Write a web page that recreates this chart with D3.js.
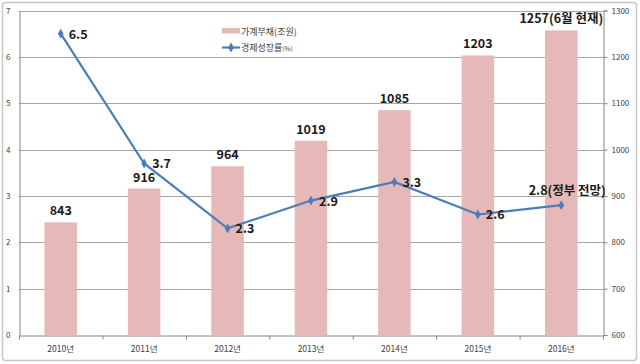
<!DOCTYPE html>
<html><head><meta charset="utf-8">
<script src="https://cdn.jsdelivr.net/npm/d3@7"></script>
<style>body{margin:0;background:#fff}svg{display:block}</style>
</head><body>
<svg id="c" width="640" height="364"></svg>
<script>
const years = ["2010년","2011년","2012년","2013년","2014년","2015년","2016년"];
const debt = [843, 916, 964, 1019, 1085, 1203, 1257];
const debtLabels = ["843","916","964","1019","1085","1203","1257(6월 현재)"];
const growth = [6.5, 3.7, 2.3, 2.9, 3.3, 2.6, 2.8];
const growthLabels = ["6.5","3.7","2.3","2.9","3.3","2.6","2.8(정부 전망)"];
const leftTicks = [0,1,2,3,4,5,6,7];
const rightTicks = [600,700,800,900,1000,1100,1200,1300];

const svg = d3.select("#c");
const L = 19, R = 603, T = 10.5, B = 335;
const font = "'Noto Sans CJK KR', 'Noto Sans', sans-serif";

// outer border
svg.append("rect").attr("x",2.5).attr("y",2.5).attr("width",634).attr("height",358)
  .attr("rx",3).attr("fill","#fff").attr("stroke","#c8c8c8").attr("stroke-width",1.5);

const x = d3.scaleBand().domain(years).range([L,R]).paddingInner(0.61).paddingOuter(0.305);
const xc = d3.scaleBand().domain(years).range([L,R]);
const yL = d3.scaleLinear().domain([0,7]).range([B,T]);
const yR = d3.scaleLinear().domain([600,1300]).range([B,T]);

// gridlines
svg.append("g").selectAll("line").data(leftTicks.slice(1)).join("line")
  .attr("x1",L).attr("x2",R).attr("y1",d=>Math.round(yL(d))+0.5).attr("y2",d=>Math.round(yL(d))+0.5)
  .attr("stroke","#a6a6a6").attr("stroke-width",1);

// bars
svg.append("g").selectAll("rect").data(debt).join("rect")
  .attr("x",(d,i)=>x(years[i])).attr("width",x.bandwidth())
  .attr("y",d=>yR(d)).attr("height",d=>B-yR(d))
  .attr("fill","#e6b9b8");

// left axis
const gl = svg.append("g").attr("transform",`translate(${L+0.5},0)`)
  .call(d3.axisLeft(yL).tickValues(leftTicks).tickFormat(d3.format("d")).tickSize(0).tickPadding(9));
gl.select(".domain").attr("stroke","#868686");
gl.selectAll("text").attr("font-family",font).attr("font-size",8).attr("fill","#404040");

// right axis
const gr = svg.append("g").attr("transform",`translate(${R+0.5},0)`)
  .call(d3.axisRight(yR).tickValues(rightTicks).tickFormat(d3.format("d")).tickSize(4).tickPadding(4));
gr.select(".domain").attr("stroke","#868686");
gr.selectAll("line").attr("stroke","#868686");
gr.selectAll("text").attr("font-family",font).attr("font-size",8).attr("fill","#404040");

// bottom axis
const gb = svg.append("g").attr("transform",`translate(0,${B+0.5})`)
  .call(d3.axisBottom(xc).tickSize(0).tickPadding(10));
gb.select(".domain").attr("stroke","#868686");
gb.selectAll("text").attr("font-family",font).attr("font-size",8.5).attr("fill","#404040");
gb.selectAll(".bt").data(d3.range(years.length+1)).join("line").attr("class","bt")
  .attr("x1",i=>L+i*xc.step()+0.5).attr("x2",i=>L+i*xc.step()+0.5).attr("y1",0).attr("y2",4)
  .attr("stroke","#868686");

// line
const cx = i => xc(years[i]) + xc.bandwidth()/2;
const line = d3.line().x((d,i)=>cx(i)).y(d=>yL(d));
svg.append("path").datum(growth).attr("d",line).attr("fill","none")
  .attr("stroke","#4a7ebb").attr("stroke-width",2.2);
const diamond = d3.symbol().type(d3.symbolDiamond).size(28);
svg.append("g").selectAll("path").data(growth).join("path")
  .attr("d",diamond).attr("transform",(d,i)=>`translate(${cx(i)},${yL(d)})`).attr("fill","#4a7ebb");

// bar labels
svg.append("g").selectAll("text").data(debt).join("text")
  .attr("x",(d,i)=>cx(i)).attr("y",d=>yR(d)-7)
  .attr("text-anchor","middle").attr("font-family",font).attr("font-weight","bold")
  .attr("font-size",12.5).attr("fill","#1a1a1a").text((d,i)=>debtLabels[i]);

// growth labels
svg.append("g").selectAll("text").data(growth).join("text")
  .attr("x",(d,i)=> i===6 ? cx(i)+6 : cx(i)+8)
  .attr("y",(d,i)=> i===6 ? yL(d)-10 : yL(d)+5)
  .attr("text-anchor",(d,i)=> i===6 ? "middle" : "start")
  .attr("font-family",font).attr("font-weight","bold")
  .attr("font-size",12.5).attr("fill","#1a1a1a").text((d,i)=>growthLabels[i]);

// legend
const lg = svg.append("g");
lg.append("rect").attr("x",222).attr("y",28).attr("width",18).attr("height",5.5).attr("fill","#e6b9b8");
lg.append("text").attr("x",241).attr("y",34.5).attr("font-family",font).attr("font-size",9)
  .attr("fill","#404040").text("가계부채(조원)");
lg.append("line").attr("x1",222).attr("x2",240).attr("y1",47.5).attr("y2",47.5)
  .attr("stroke","#4a7ebb").attr("stroke-width",2.2);
lg.append("path").attr("d",diamond).attr("transform","translate(231,47.5)").attr("fill","#4a7ebb");
const t2 = lg.append("text").attr("x",241).attr("y",51).attr("font-family",font).attr("font-size",9)
  .attr("fill","#404040");
t2.append("tspan").text("경제성장률");
t2.append("tspan").attr("font-size",6.5).text("(%)");
</script>
</body></html>
